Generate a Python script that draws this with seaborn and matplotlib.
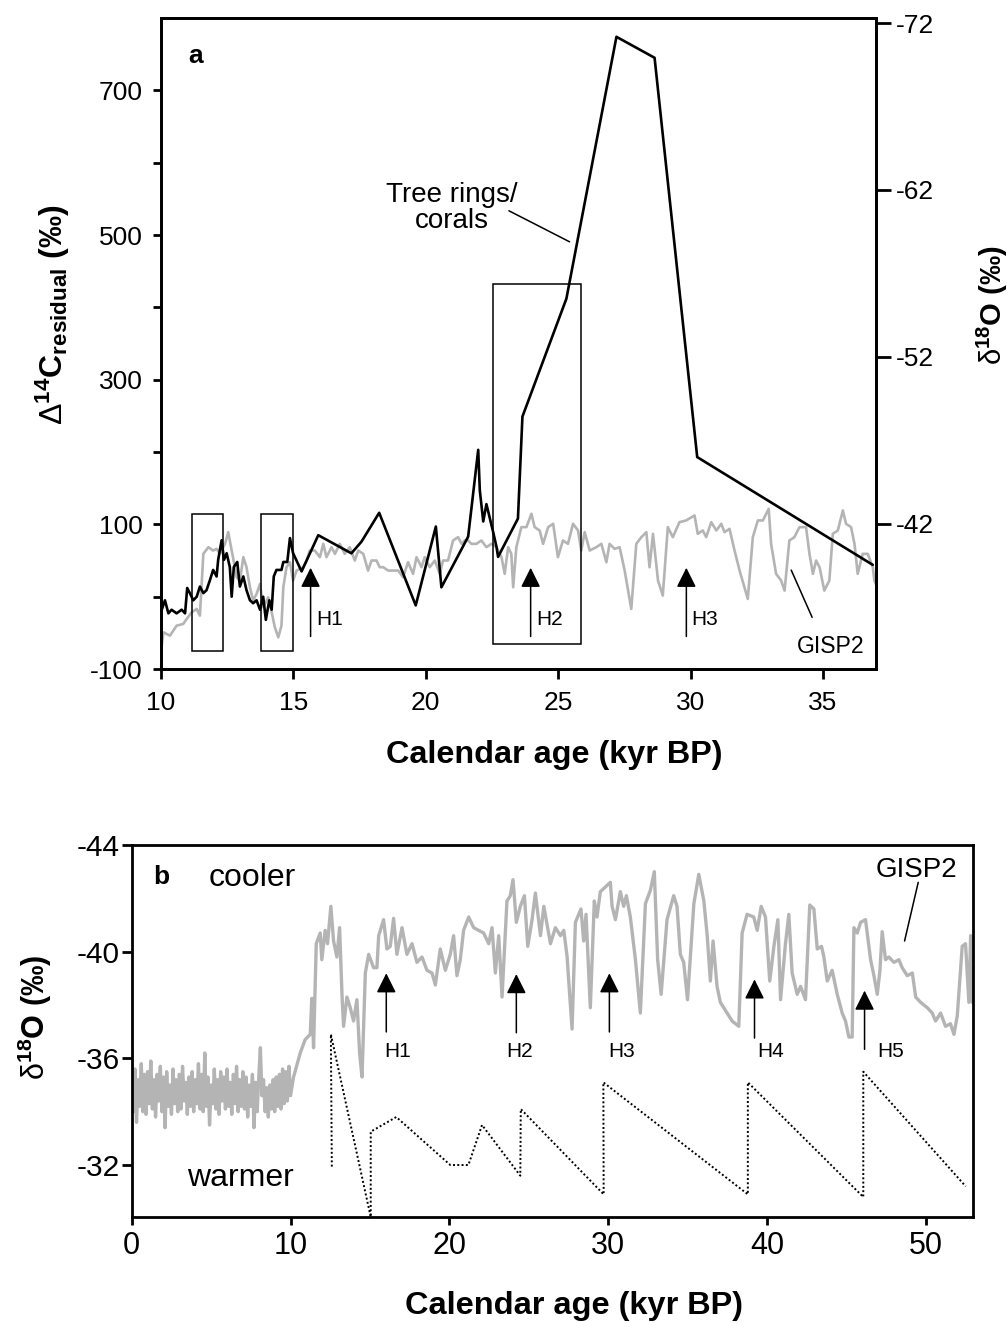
import numpy as np
import pandas as pd
import matplotlib
matplotlib.use('Agg')
import matplotlib.pyplot as plt
import seaborn as sns
from matplotlib.patches import Rectangle

# ---------------- Panel a data ----------------
# Tree rings / corals  Delta14C residual (per mil) vs calendar age (kyr BP)
c14_age = [10.0, 10.03, 10.15, 10.28, 10.40, 10.59, 10.78, 10.91, 10.99, 11.09,
           11.22, 11.35, 11.47, 11.60, 11.72, 11.85, 11.97, 12.10, 12.16, 12.29,
           12.38, 12.48, 12.60, 12.67, 12.75, 12.88, 12.98, 13.11, 13.23, 13.36,
           13.48, 13.61, 13.74, 13.86, 13.96, 14.09, 14.18, 14.26, 14.36, 14.55,
           14.62, 14.77, 14.87, 14.99, 15.31, 15.94, 17.19, 17.57, 18.24, 19.62,
           20.38, 20.59, 21.60, 21.98, 22.04, 22.17, 22.29, 22.54, 22.67, 22.73,
           23.48, 23.65, 25.31, 27.20, 28.64, 30.25, 36.88]
c14_resid = [-7, -18, -5, -23, -18, -23, -18, -23, 12, 5,
             -5, 0, 14, 5, 9, 23, 37, 28, 51, 78,
             51, 60, 41, 0, 41, 48, 14, 28, 9, -5,
             -9, -5, -18, 0, -32, -5, -18, 28, 37, 37,
             48, 48, 81, 60, 35, 85, 60, 76, 116, -12,
             97, 13, 83, 203, 147, 104, 128, 90, 69, 55,
             108, 249, 412, 774, 745, 193, 44]

# GISP2 d18O (per mil), plotted on right (inverted) axis of panel a
gisp_a_age = [10.0, 10.09, 10.34, 10.59, 10.84, 10.97, 11.16, 11.35, 11.47, 11.60,
              11.79, 11.97, 12.10, 12.23, 12.42, 12.54, 12.67, 12.86, 12.98, 13.11,
              13.23, 13.36, 13.48, 13.61, 13.74, 13.86, 14.05, 14.18, 14.30, 14.43,
              14.55, 14.62, 14.74, 14.87, 14.99, 15.12, 15.37, 15.50, 15.62, 15.81,
              16.00, 16.13, 16.25, 16.44, 16.57, 16.75, 16.94, 17.13, 17.32, 17.45,
              17.64, 17.82, 17.95, 18.14, 18.26, 18.39, 18.58, 18.77, 18.96, 19.14,
              19.33, 19.52, 19.65, 19.84, 19.96, 20.15, 20.34, 20.53, 20.65, 20.84,
              21.03, 21.22, 21.35, 21.47, 21.60, 21.72, 21.91, 22.10, 22.29, 22.48,
              22.67, 22.86, 22.98, 23.11, 23.23, 23.30, 23.42, 23.61, 23.80, 23.99,
              24.11, 24.30, 24.43, 24.62, 24.81, 24.99, 25.18, 25.37, 25.56, 25.75,
              25.87, 26.00, 26.19, 26.44, 26.63, 26.82, 26.94, 27.13, 27.32, 27.51,
              27.76, 27.95, 28.14, 28.33, 28.45, 28.58, 28.77, 28.95, 29.14, 29.33,
              29.58, 29.83, 30.15, 30.27, 30.46, 30.59, 30.78, 30.97, 31.16, 31.28,
              31.47, 31.66, 31.85, 32.16, 32.35, 32.54, 32.73, 32.95, 33.04, 33.23,
              33.42, 33.55, 33.73, 33.92, 34.11, 34.36, 34.49, 34.62, 34.74, 34.87,
              35.05, 35.24, 35.37, 35.56, 35.75, 35.87, 36.06, 36.19, 36.31, 36.50,
              36.69, 36.88, 36.94, 37.05]
gisp_a_d18o = [-34.3, -35.5, -35.3, -35.9, -36.0, -36.3, -36.7, -36.9, -36.5, -40.2,
               -40.6, -40.4, -40.5, -40.2, -40.8, -41.5, -40.4, -38.8, -38.6, -40.0,
               -39.4, -38.2, -37.4, -37.8, -38.4, -37.0, -37.6, -36.7, -35.8, -35.2,
               -35.9, -38.2, -39.4, -39.7, -38.6, -39.2, -39.4, -39.8, -40.4, -40.4,
               -40.0, -40.8, -40.0, -40.6, -40.2, -40.8, -40.2, -40.6, -39.8, -40.4,
               -40.2, -39.2, -39.8, -39.8, -39.4, -39.4, -39.2, -39.2, -39.2, -38.8,
               -39.7, -39.0, -40.0, -39.4, -40.0, -39.4, -39.8, -39.0, -39.8, -39.8,
               -41.0, -41.2, -40.8, -41.0, -41.0, -40.8, -40.8, -41.0, -40.6, -40.8,
               -40.6, -40.0, -39.0, -40.6, -40.2, -38.2, -40.6, -41.8, -41.8, -42.6,
               -41.8, -41.6, -40.8, -41.8, -42.0, -40.0, -41.0, -40.8, -42.0, -41.6,
               -40.4, -41.5, -40.4, -40.6, -40.8, -39.7, -40.8, -40.5, -40.6, -39.2,
               -36.9, -40.8, -41.2, -41.5, -39.4, -41.4, -38.6, -37.7, -41.8, -41.2,
               -42.1, -42.2, -42.5, -41.4, -41.6, -41.2, -42.1, -41.6, -42.0, -41.5,
               -41.7, -40.4, -39.2, -37.5, -41.2, -42.2, -42.2, -42.9, -40.8, -39.0,
               -38.6, -38.0, -41.0, -41.2, -41.8, -41.8, -40.2, -39.0, -39.8, -39.4,
               -38.0, -38.6, -41.4, -41.6, -42.8, -42.0, -41.8, -40.8, -39.0, -40.2,
               -40.2, -39.4, -38.6, -38.2]

# ---------------- Panel b data ----------------
holo_age = [0.0, 0.1, 0.2, 0.3, 0.4, 0.5, 0.6, 0.7, 0.8, 0.9,
            1.0, 1.1, 1.2, 1.3, 1.4, 1.5, 1.6, 1.7, 1.8, 1.9,
            2.0, 2.1, 2.2, 2.3, 2.4, 2.5, 2.6, 2.7, 2.8, 2.9,
            3.0, 3.1, 3.2, 3.3, 3.4, 3.5, 3.6, 3.7, 3.8, 3.9,
            4.0, 4.1, 4.2, 4.3, 4.4, 4.5, 4.6, 4.7, 4.8, 4.9,
            5.0, 5.1, 5.2, 5.3, 5.4, 5.5, 5.6, 5.7, 5.8, 5.9,
            6.0, 6.1, 6.2, 6.3, 6.4, 6.5, 6.6, 6.7, 6.8, 6.9,
            7.0, 7.1, 7.2, 7.3, 7.4, 7.5, 7.6, 7.7, 7.8, 7.9,
            8.0, 8.1, 8.2, 8.3, 8.4, 8.5, 8.6, 8.7, 8.8, 8.9,
            9.0, 9.1, 9.2, 9.3, 9.4, 9.5, 9.6, 9.7, 9.8, 9.9, 10.0]
holo_d18o = [-36.4, -34.0, -35.6, -33.6, -35.2, -34.2, -35.8, -34.0, -35.4, -33.9,
             -35.5, -34.3, -35.9, -34.1, -35.2, -33.8, -35.4, -34.4, -35.7, -34.0,
             -35.3, -33.4, -35.5, -34.2, -35.0, -33.9, -35.6, -34.3, -35.2, -34.0,
             -35.4, -34.1, -35.7, -34.4, -35.1, -33.9, -35.3, -34.2, -35.5, -34.0,
             -35.2, -34.3, -35.8, -34.1, -35.4, -34.0, -36.2, -34.2, -35.3, -33.5,
             -35.0, -34.3, -35.6, -34.1, -35.2, -33.9, -35.5, -34.4, -35.3, -34.1,
             -35.6, -34.2, -35.1, -33.9, -35.4, -34.3, -35.7, -34.0, -35.2, -34.2,
             -35.5, -34.1, -35.3, -33.8, -35.0, -34.2, -35.4, -33.4, -35.1, -34.0,
             -35.3, -36.4, -34.6, -35.2, -34.0, -34.9, -33.8, -35.0, -34.1, -35.2,
             -34.0, -35.3, -34.2, -35.4, -34.1, -35.6, -34.3, -35.5, -34.4, -35.7, -34.6]

glac_age = [10.19, 10.61, 10.92, 11.24, 11.34, 11.45, 11.62, 11.87, 11.97, 12.18,
            12.33, 12.54, 12.71, 12.92, 13.09, 13.24, 13.34, 13.55, 13.76, 13.97,
            14.18, 14.35, 14.50, 14.71, 14.92, 15.23, 15.44, 15.55, 15.86, 16.07,
            16.28, 16.49, 16.70, 17.02, 17.33, 17.65, 17.96, 18.28, 18.59, 18.91,
            19.12, 19.43, 19.75, 20.06, 20.27, 20.48, 20.69, 20.90, 21.22, 21.53,
            21.85, 22.16, 22.48, 22.69, 22.90, 23.11, 23.32, 23.63, 23.84, 24.01,
            24.22, 24.47, 24.73, 24.94, 25.21, 25.42, 25.74, 25.95, 26.37, 26.68,
            27.00, 27.21, 27.42, 27.52, 27.73, 27.94, 28.29, 28.46, 28.61, 28.88,
            29.13, 29.30, 29.51, 30.14, 30.25, 30.46, 30.77, 30.98, 31.15, 31.40,
            31.72, 32.03, 32.35, 32.66, 32.91, 33.12, 33.34, 33.71, 34.13, 34.34,
            34.55, 34.76, 35.00, 35.40, 35.71, 36.03, 36.24, 36.44, 36.61, 36.86,
            37.07, 37.49, 37.81, 38.23, 38.44, 38.75, 39.17, 39.39, 39.64, 39.91,
            40.18, 40.44, 40.69, 40.86, 41.17, 41.38, 41.59, 41.91, 42.12, 42.43,
            42.70, 42.96, 43.17, 43.44, 43.59, 43.80, 44.11, 44.43, 44.74, 44.95,
            45.16, 45.37, 45.48, 45.69, 45.90, 46.21, 46.53, 46.74, 46.95, 47.12,
            47.26, 47.47, 47.68, 48.00, 48.31, 48.52, 48.84, 49.16, 49.37, 49.68,
            50.10, 50.41, 50.62, 50.94, 51.25, 51.56, 51.78, 51.99, 52.30, 52.51,
            52.72, 52.83, 52.93, 53.04]
glac_d18o = [-35.3, -36.2, -36.7, -36.9, -38.25, -36.4, -40.3, -40.7, -39.7, -40.8,
             -40.3, -41.7, -40.4, -39.8, -40.9, -38.4, -37.2, -38.3, -37.9, -37.4,
             -38.2, -36.2, -35.3, -39.2, -39.9, -39.4, -39.4, -40.6, -41.2, -40.1,
             -40.2, -41.25, -39.9, -40.9, -39.9, -40.3, -39.6, -39.8, -39.3, -39.2,
             -38.75, -40.1, -39.3, -39.9, -40.6, -39.1, -39.7, -40.8, -41.3, -40.9,
             -40.8, -40.7, -40.3, -40.9, -39.2, -40.6, -38.3, -41.9, -42.1, -42.7,
             -41.1, -41.7, -42.1, -40.2, -41.2, -42.2, -40.6, -41.7, -40.3, -40.9,
             -40.6, -40.8, -39.8, -38.9, -37.1, -41.1, -41.6, -40.4, -41.4, -37.9,
             -41.9, -41.3, -42.25, -42.6, -41.7, -41.2, -42.25, -41.7, -42.1, -41.3,
             -39.7, -37.7, -41.8, -42.3, -43.0, -39.7, -38.4, -41.2, -42.1, -41.7,
             -39.9, -39.6, -38.2, -41.8, -42.9, -41.9, -40.6, -38.9, -40.4, -38.7,
             -38.1, -37.7, -37.4, -37.2, -40.7, -41.4, -41.3, -40.8, -41.7, -41.3,
             -38.9, -40.2, -41.2, -38.2, -40.3, -41.4, -39.2, -38.4, -38.7, -38.2,
             -41.75, -41.6, -40.1, -40.2, -39.8, -38.9, -39.3, -38.4, -37.7, -37.4,
             -36.8, -36.8, -40.9, -40.7, -41.1, -41.2, -39.7, -39.1, -38.4, -39.3,
             -40.75, -39.7, -39.8, -39.6, -39.7, -39.4, -39.1, -39.2, -38.3, -38.1,
             -37.9, -37.7, -37.4, -37.7, -37.2, -37.3, -36.9, -37.6, -40.2, -40.3,
             -38.1, -40.6, -38.1, -40.6]

# dotted sawtooth curve in panel b
saw_age = [12.6, 12.54, 15.05, 15.05, 16.66, 20.06, 21.2, 22.06, 24.47, 24.5,
           29.72, 29.7, 38.8, 38.8, 46.07, 46.07, 52.52]
saw_d18o = [-31.94, -36.9, -30.05, -33.25, -33.8, -32.0, -32.0, -33.5, -31.6, -34.1,
            -30.9, -35.1, -30.9, -35.1, -30.8, -35.5, -31.2]

# Heinrich events (annotation positions)
h_a_names = ['H1', 'H2', 'H3']
h_a_age = [15.65, 23.96, 29.84]
h_b_names = ['H1', 'H2', 'H3', 'H4', 'H5']
h_b_age = [16.03, 24.22, 30.08, 39.22, 46.15]
h_b_tip = [-39.19, -39.16, -39.19, -38.96, -38.54]
h_b_label_x = [15.93, 23.57, 29.98, 39.37, 46.95]

GRAY = '#b4b4b4'

# ---------------- style ----------------
sns.set_style('ticks')
plt.rcParams['font.family'] = ['Liberation Sans', 'DejaVu Sans']
plt.rcParams['axes.unicode_minus'] = False
plt.rcParams['mathtext.fontset'] = 'custom'
plt.rcParams['mathtext.rm'] = 'Liberation Sans'
plt.rcParams['mathtext.bf'] = 'Liberation Sans:bold'
plt.rcParams['mathtext.it'] = 'Liberation Sans:italic'
plt.rcParams['axes.linewidth'] = 2.0
for k in ['text.color', 'axes.labelcolor', 'xtick.color', 'ytick.color',
          'axes.edgecolor', 'xtick.labelcolor', 'ytick.labelcolor']:
    plt.rcParams[k] = 'black'

fig = plt.figure(figsize=(10.08, 13.23), dpi=100)

# ================= Panel a =================
ax = fig.add_axes([0.1597, 0.4943, 0.7093, 0.4921])
ax2 = ax.twinx()
sns.lineplot(x=gisp_a_age, y=gisp_a_d18o, ax=ax2, color=GRAY, lw=1.9,
             sort=False, estimator=None)
sns.lineplot(x=c14_age, y=c14_resid, ax=ax, color='black', lw=1.9,
             sort=False, estimator=None)
ax.set_zorder(ax2.get_zorder() + 1)
ax.patch.set_visible(False)

ax.set_xlim(10, 37)
ax.set_ylim(-100, 800)
ax2.set_ylim(-33.3, -72.3)
ax.set_xticks([10, 15, 20, 25, 30, 35])
yt = list(range(-100, 800, 100))
ax.set_yticks(yt)
ax.set_yticklabels([str(v) if v % 200 != 0 else '' for v in yt])
ax2.set_yticks([-72, -62, -52, -42])
ax.set_xlabel('')
ax.set_ylabel('')
ax2.set_ylabel('')
for s in ['top', 'right', 'left', 'bottom']:
    ax.spines[s].set_linewidth(2.0)
    ax2.spines[s].set_linewidth(2.0)
    ax.spines[s].set_color('black')
    ax2.spines[s].set_color('black')
ax.tick_params(axis='y', direction='out', length=6, width=2, labelsize=19, pad=7, colors='black')
ax.tick_params(axis='x', direction='out', length=7, width=2, labelsize=19, pad=9, colors='black')
ax2.tick_params(axis='y', direction='out', length=11, width=2, labelsize=19, pad=3, colors='black')

# boxes
boxes = [(11.16, -74.7, 1.19, 188.5), (13.76, -74.7, 1.21, 188.5), (22.52, -65.4, 3.33, 497.0)]
for (bx, by, bw, bh) in boxes:
    ax.add_patch(Rectangle((bx, by), bw, bh, fill=False, ec='black', lw=1.1, zorder=3))

# arrows & labels
arrow_kw = dict(arrowstyle='-|>,head_length=0.6,head_width=0.3', color='black',
                lw=1.1, shrinkA=0, shrinkB=0, mutation_scale=20)
for name, xa in zip(h_a_names, h_a_age):
    ax.annotate('', xy=(xa, 40), xytext=(xa, -55), arrowprops=arrow_kw)
    ax.text(xa + 0.2, -32, name, fontsize=15, ha='left', va='center')

ax.text(11.03, 748, 'a', fontsize=19, fontweight='bold', ha='left', va='center')
ax.text(20.97, 538, 'Tree rings/\ncorals', fontsize=20, ha='center', va='center',
        linespacing=1.0, multialignment='center')
ax.plot([23.14, 25.43], [533.5, 490.6], color='black', lw=1.1)
ax.text(35.28, -69, 'GISP2', fontsize=16.6, ha='center', va='center')
ax.plot([33.8, 34.59], [36.8, -28.5], color='black', lw=1.1)

fig.text(0.0526, 0.7620, r'$\Delta^{\mathbf{14}}\mathbf{C}_{\mathbf{residual}}$ (‰)',
         rotation=90, fontsize=23, fontweight='bold', ha='center', va='center')
fig.text(0.985, 0.7695, r'$\mathrm{\delta}^{\mathbf{18}}\mathbf{O}$ (‰)',
         rotation=90, fontsize=21, fontweight='bold', ha='center', va='center')
fig.text(0.5496, 0.4290, 'Calendar age (kyr BP)', fontsize=23.3, fontweight='bold',
         ha='center', va='center')

# ================= Panel b =================
bx_ = fig.add_axes([0.1307, 0.0799, 0.8349, 0.2814])
sns.lineplot(x=holo_age + glac_age, y=holo_d18o + glac_d18o, ax=bx_, color=GRAY,
             lw=2.4, sort=False, estimator=None)
sns.lineplot(x=saw_age, y=saw_d18o, ax=bx_, color='black', lw=1.4,
             linestyle=(0, (1, 1.2)), sort=False, estimator=None)
bx_.set_xlim(0, 53)
bx_.set_ylim(-30.04, -44)
bx_.set_xticks([0, 10, 20, 30, 40, 50])
bx_.set_yticks([-44, -40, -36, -32])
bx_.set_xlabel('')
bx_.set_ylabel('')
for s in ['top', 'right', 'left', 'bottom']:
    bx_.spines[s].set_linewidth(2.0)
    bx_.spines[s].set_color('black')
bx_.tick_params(axis='y', direction='out', length=7, width=2, labelsize=21.5, pad=1.5, colors='black')
bx_.tick_params(axis='x', direction='out', length=6, width=2, labelsize=22, pad=4, colors='black')

for name, xa, tip, lx in zip(h_b_names, h_b_age, h_b_tip, h_b_label_x):
    bx_.annotate('', xy=(xa, tip), xytext=(xa, tip + 2.2), arrowprops=arrow_kw)
    bx_.text(lx, -36.25, name, fontsize=15, ha='left', va='center')

bx_.text(1.36, -42.8, 'b', fontsize=19, fontweight='bold', ha='left', va='center')
bx_.text(4.83, -42.75, 'cooler', fontsize=23, ha='left', va='center')
bx_.text(3.47, -31.5, 'warmer', fontsize=23, ha='left', va='center')
bx_.text(49.41, -43.06, 'GISP2', fontsize=20, ha='center', va='center')
bx_.plot([49.53, 48.67], [-42.6, -40.4], color='black', lw=1.1)

fig.text(0.0347, 0.2313, r'$\mathrm{\delta}^{\mathbf{18}}\mathbf{O}$ (‰)',
         rotation=90, fontsize=22, fontweight='bold', ha='center', va='center')
fig.text(0.5694, 0.0130, 'Calendar age (kyr BP)', fontsize=23.4, fontweight='bold',
         ha='center', va='center')

fig.savefig('out.png', dpi=100)
